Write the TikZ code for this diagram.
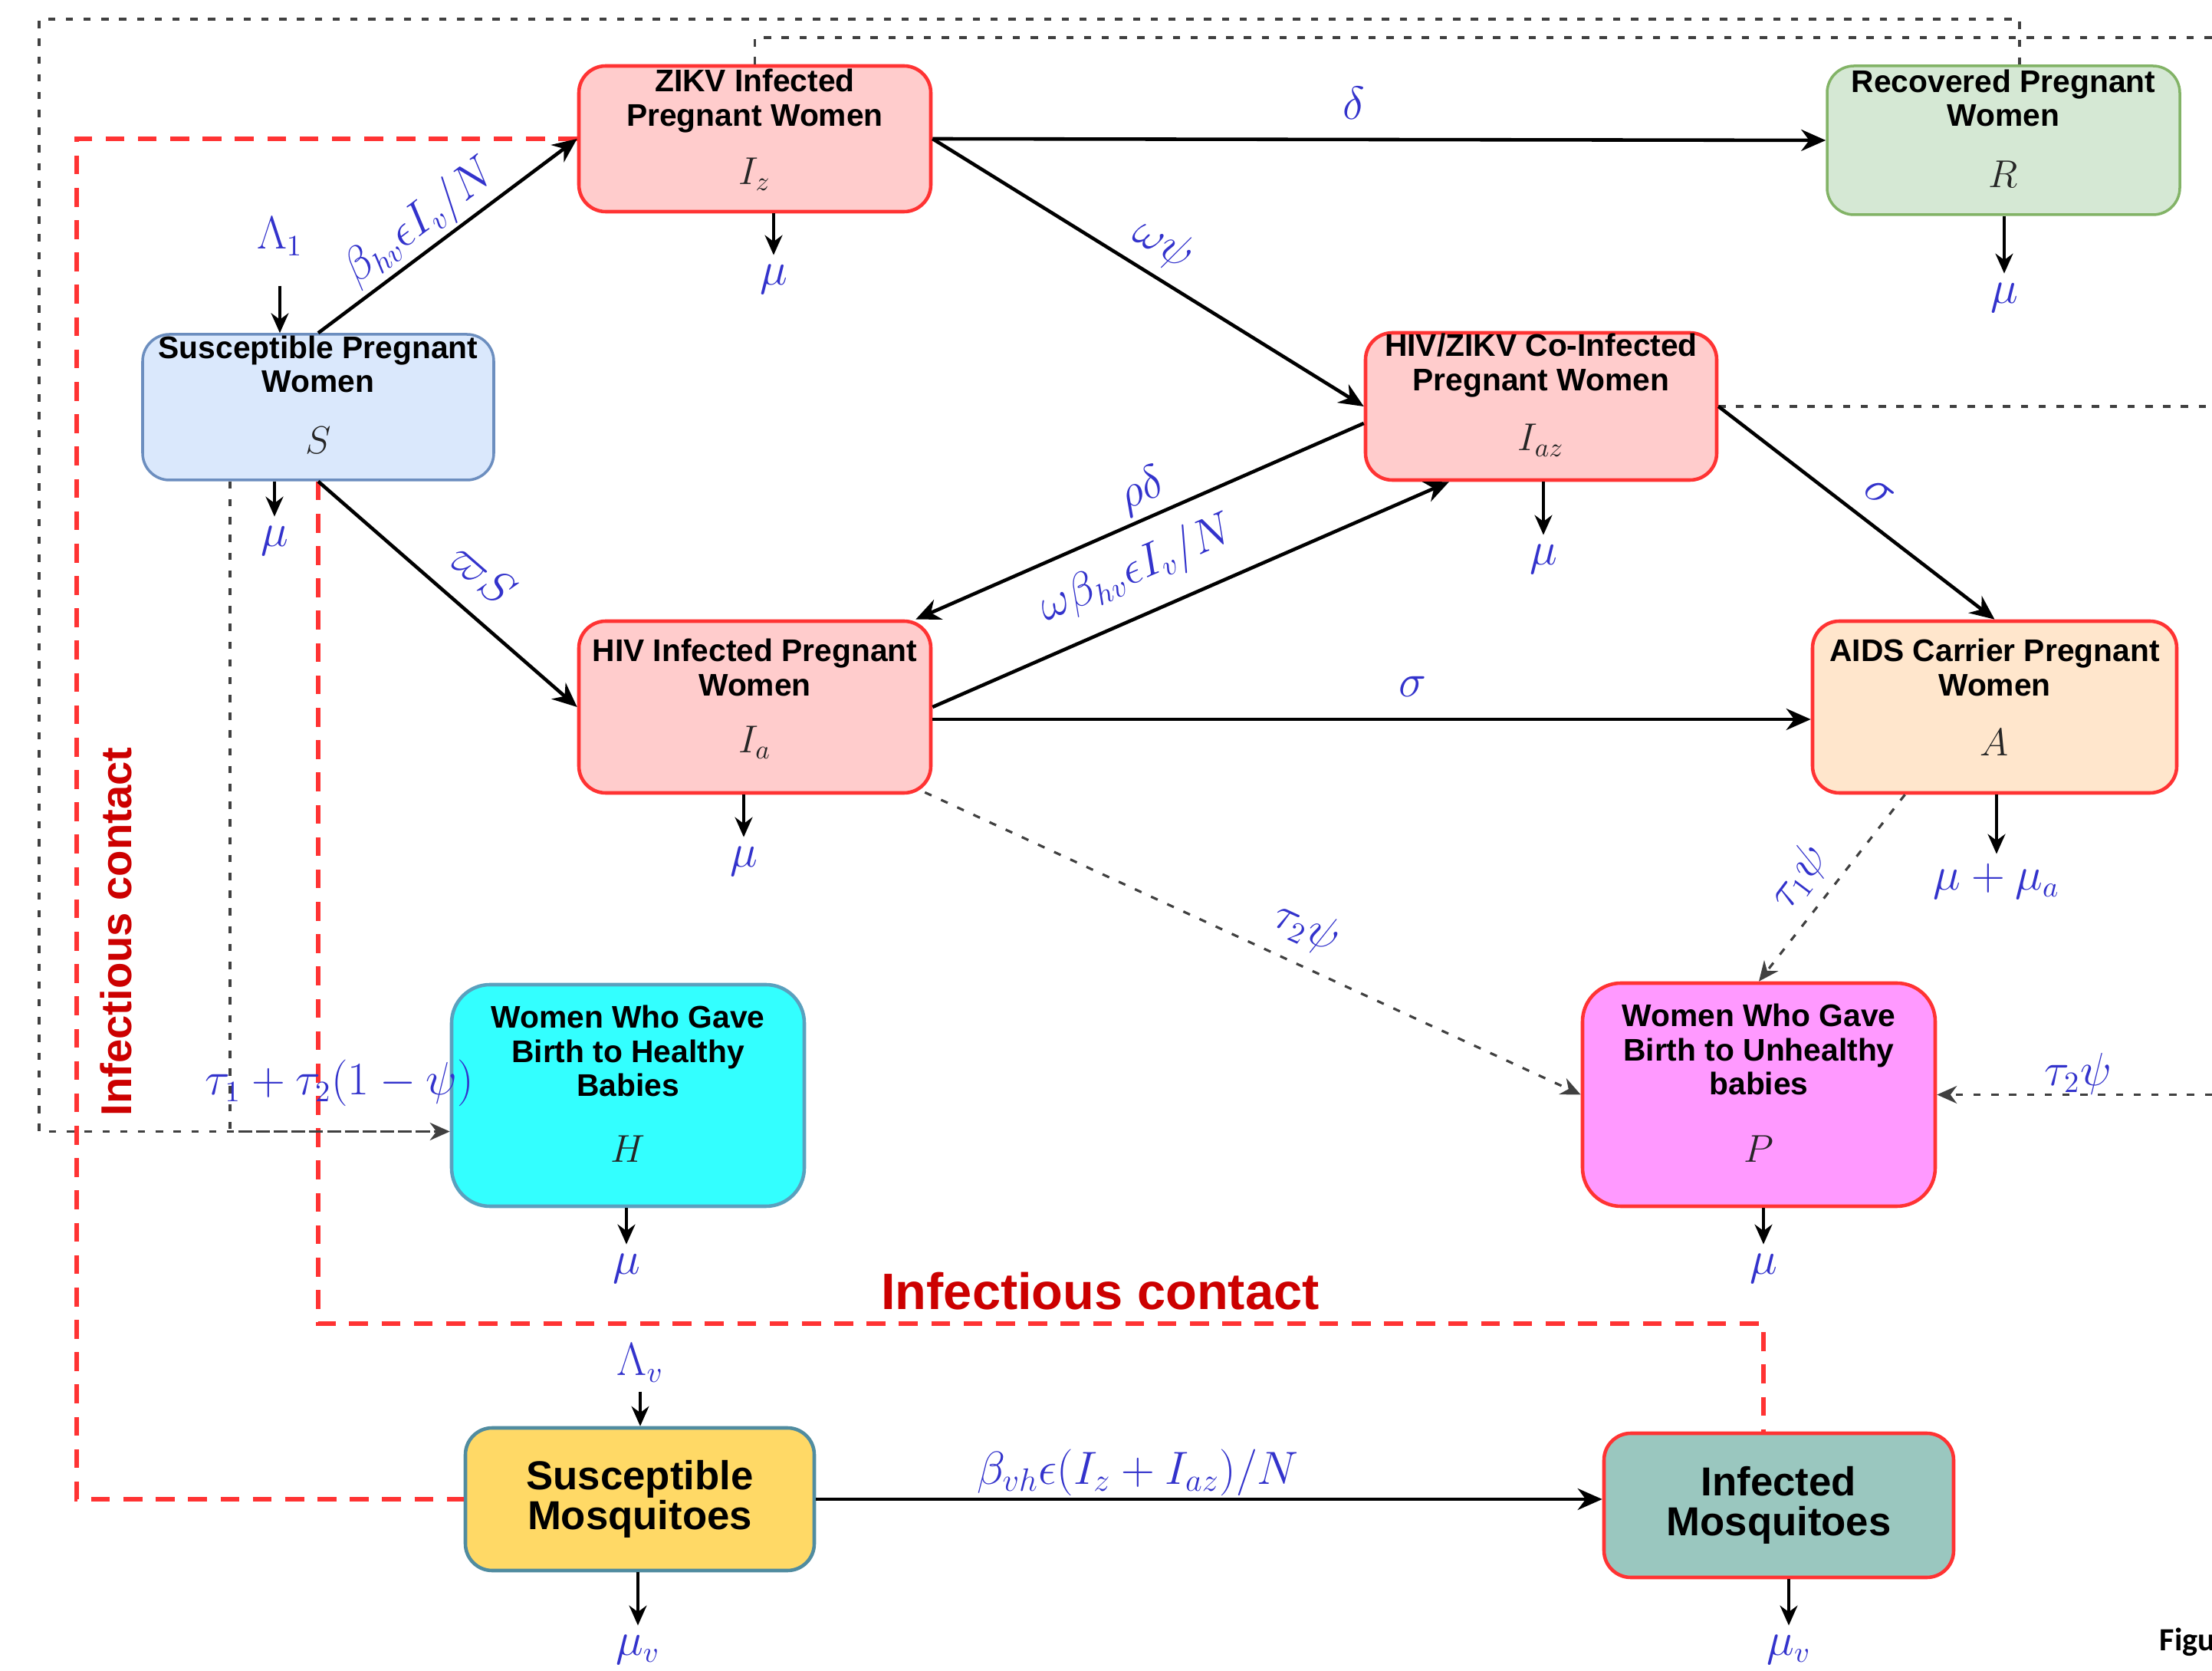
\documentclass[tikz,border=0pt]{standalone}
\usepackage{amsmath}
\usepackage{amssymb}
\usepackage{fontspec}
\setsansfont{Liberation Sans}
\newfontfamily\figfont{Carlito}
\usepackage{tikz}
\usetikzlibrary{positioning, arrows.meta, calc}

\begin{document}
\begin{tikzpicture}[>={Stealth[length=3.2mm, width=2.8mm]},
    every node/.style={font=\fontsize{16}{19}\selectfont},
    box/.style={rounded corners=0.35cm, line width=1.3pt, inner sep=0pt},
    boxtitle/.style={font=\sffamily\bfseries\fontsize{11.6}{12.6}\selectfont, align=center, inner sep=0pt},
    boxsym/.style={font=\fontsize{14}{16}\selectfont, text=black!85},
    rate/.style={text=rateblue},
    flow/.style={->, line width=1.3pt},
    loss/.style={->, line width=0.9pt, >={Stealth[length=2.6mm, width=2.3mm]}},
    dotline/.style={line width=0.9pt, black!75, dash pattern=on 2.7pt off 3.9pt, >={Stealth[length=2.6mm, width=2.3mm]}},
    contact/.style={line width=1.8pt, contactred, dash pattern=on 7pt off 5pt}]

    % Define colors
    \definecolor{rateblue}{RGB}{51, 51, 204}
    \definecolor{contactred}{RGB}{255, 51, 51}
    \definecolor{contacttext}{RGB}{204, 0, 0}
    \definecolor{susfill}{RGB}{218, 232, 252}
    \definecolor{susline}{RGB}{108, 142, 191}
    \definecolor{inffill}{RGB}{255, 204, 204}
    \definecolor{infline}{RGB}{255, 51, 51}
    \definecolor{recfill}{RGB}{213, 232, 212}
    \definecolor{recline}{RGB}{130, 179, 102}
    \definecolor{aidsfill}{RGB}{255, 230, 204}
    \definecolor{healthyfill}{RGB}{51, 255, 255}
    \definecolor{healthyline}{RGB}{90, 160, 190}
    \definecolor{sickfill}{RGB}{255, 153, 255}
    \definecolor{susmosfill}{RGB}{255, 217, 102}
    \definecolor{susmosline}{RGB}{80, 140, 160}
    \definecolor{infmosfill}{RGB}{154, 199, 191}

    % Frame
    \useasboundingbox (0, 0) rectangle (28.85, 21.78);
    \fill[white] (0, 0) rectangle (28.85, 21.78);

    % Susceptible Pregnant Women
    \node[box, fill=susfill, draw=susline, line width=1pt, minimum width=4.58cm, minimum height=1.9cm] (S) at (4.15, 16.47) {};
    \node[boxtitle, below=0.03cm of S.north] (Stitle) {Susceptible Pregnant\\Women};
    \node[boxsym] (Ssym) at ($(S.south)+(0, 0.54)$) {$S$};

    % ZIKV Infected Pregnant Women
    \node[box, fill=inffill, draw=infline, minimum width=4.59cm, minimum height=1.9cm] (Iz) at (9.845, 19.97) {};
    \node[boxtitle, below=0.06cm of Iz.north] (Iztitle) {ZIKV Infected\\Pregnant Women};
    \node[boxsym] (Izsym) at ($(Iz.south)+(0, 0.51)$) {$I_z$};

    % Recovered Pregnant Women
    \node[box, fill=recfill, draw=recline, line width=1pt, minimum width=4.6cm, minimum height=1.94cm] (R) at (26.13, 19.95) {};
    \node[boxtitle, below=0.06cm of R.north] (Rtitle) {Recovered Pregnant\\Women};
    \node[boxsym] (Rsym) at ($(R.south)+(0, 0.55)$) {$R$};

    % HIV/ZIKV Co-Infected Pregnant Women
    \node[box, fill=inffill, draw=infline, minimum width=4.58cm, minimum height=1.92cm] (Iaz) at (20.10, 16.48) {};
    \node[boxtitle, below=0.03cm of Iaz.north] (Iaztitle) {HIV/ZIKV Co-Infected\\Pregnant Women};
    \node[boxsym] (Iazsym) at ($(Iaz.south)+(0, 0.54)$) {$I_{az}$};

    % HIV Infected Pregnant Women
    \node[box, fill=inffill, draw=infline, minimum width=4.59cm, minimum height=2.24cm] (Ia) at (9.845, 12.56) {};
    \node[boxtitle, below=0.25cm of Ia.north] (Iatitle) {HIV Infected Pregnant\\Women};
    \node[boxsym] (Iasym) at ($(Ia.south)+(0, 0.68)$) {$I_a$};

    % AIDS Carrier Pregnant Women
    \node[box, fill=aidsfill, draw=infline, minimum width=4.75cm, minimum height=2.24cm] (A) at (26.015, 12.56) {};
    \node[boxtitle, below=0.25cm of A.north] (Atitle) {AIDS Carrier Pregnant\\Women};
    \node[boxsym] (Asym) at ($(A.south)+(0, 0.68)$) {$A$};

    % Women Who Gave Birth to Healthy Babies
    \node[box, rounded corners=0.5cm, fill=healthyfill, draw=healthyline, minimum width=4.6cm, minimum height=2.89cm] (H) at (8.19, 7.495) {};
    \node[boxtitle, below=0.29cm of H.north] (Htitle) {Women Who Gave\\Birth to Healthy\\Babies};
    \node[boxsym] (Hsym) at ($(H.south)+(0, 0.77)$) {$H$};

    % Women Who Gave Birth to Unhealthy babies
    \node[box, rounded corners=0.5cm, fill=sickfill, draw=infline, minimum width=4.6cm, minimum height=2.91cm] (P) at (22.94, 7.505) {};
    \node[boxtitle, below=0.29cm of P.north] (Ptitle) {Women Who Gave\\Birth to Unhealthy\\babies};
    \node[boxsym] (Psym) at ($(P.south)+(0, 0.77)$) {$P$};

    % Mosquitoes
    \node[box, fill=susmosfill, draw=susmosline, minimum width=4.55cm, minimum height=1.86cm, align=center, font=\sffamily\bfseries\fontsize{15}{14.8}\selectfont] (Sv) at (8.345, 2.23) {Susceptible\\Mosquitoes};
    \node[box, fill=infmosfill, draw=infline, minimum width=4.56cm, minimum height=1.88cm, align=center, font=\sffamily\bfseries\fontsize{15}{14.8}\selectfont] (Iv) at (23.20, 2.15) {Infected\\Mosquitoes};

    % Infectious contact lines
    \draw[contact] (Iz.west) -- ++(-6.53, 0) |- (Sv.west);
    \draw[contact] (S.south) -- (4.15, 4.52) -| ($(Iv.north)+(-0.2, 0)$);
    \node[rotate=90, text=contacttext, font=\sffamily\bfseries\fontsize{16}{18}\selectfont] (contactV) at (1.51, 9.63) {Infectious contact};
    \node[text=contacttext, font=\sffamily\bfseries\fontsize{19}{21}\selectfont] (contactH) at (14.35, 4.94) {Infectious contact};

    % Birth outcome lines (dotted)
    \coordinate (Hin) at ($(H.west)+(0, -0.47)$);
    \coordinate (TopEdge) at (28.85, 21.29);
    \coordinate (MidEdge) at (28.85, 16.48);
    \coordinate (LowEdge) at (28.85, 7.505);
    \draw[dotline, ->] ($(R.north)+(0.21, 0)$) |- (0.51, 21.53) |- (Hin);
    \draw[dotline] ($(S.south)+(-1.15, 0)$) |- (Hin);
    \draw[dotline] (Iz.north) |- (TopEdge);
    \draw[dotline] (Iaz.east) -- (MidEdge);
    \draw[dotline, ->] (LowEdge) -- (P.east);
    \draw[dotline, ->] ($(Ia.south east)+(-0.1, 0.03)$) -- (P.west);
    \draw[dotline, ->] ($(A.south)+(-1.17, 0)$) -- (P.north);

    % Transitions
    \draw[flow] (S.north) -- (Iz.west);
    \draw[flow] (S.south) -- (Ia.west);
    \draw[flow] (Iz.east) -- (R.west);
    \draw[flow] (Iz.east) -- (Iaz.west);
    \draw[flow] ($(Iaz.west)+(0, -0.22)$) -- ($(Ia.north east)+(-0.22, 0)$);
    \draw[flow] (Ia.east) -- ($(Iaz.south)+(-1.2, 0)$);
    \draw[flow] (Iaz.east) -- (A.north);
    \draw[flow] ($(Ia.east)+(0, -0.16)$) -- ($(A.west)+(0, -0.16)$);
    \draw[flow] (Sv.east) -- (Sv.east -| Iv.west);

    % Transition rates
    \node[rate, rotate=37] (rBhv) at (5.48, 18.88) {$\beta_{hv}\epsilon I_v/N$};
    \node[rate, rotate=-41] (rPiS) at (6.30, 14.30) {$\varpi S$};
    \node[rate] (rDelta) at (17.66, 20.44) {$\delta$};
    \node[rate, rotate=-31] (rOmPsi) at (15.17, 18.59) {$\omega\psi$};
    \node[rate, rotate=24] (rRhoDelta) at (14.89, 15.38) {$\rho\delta$};
    \node[rate, rotate=23.5] (rOmBhv) at (14.83, 14.35) {$\omega\beta_{hv}\epsilon I_v/N$};
    \node[rate] (rSigA) at (18.42, 12.83) {$\sigma$};
    \node[rate, rotate=-38] (rSigAz) at (24.51, 15.35) {$\sigma$};
    \node[rate, rotate=-24.5] (rTauIa) at (17.04, 9.68) {$\tau_2\psi$};
    \node[rate, rotate=53] (rTauA) at (23.47, 10.34) {$\tau_1\psi$};
    \node[rate] (rTauR) at (27.10, 7.78) {$\tau_2\psi$};
    \node[rate] (rHealthy) at (4.43, 7.66) {$\tau_1+\tau_2(1-\psi)$};
    \node[rate, font=\fontsize{18}{21}\selectfont] (rBvh) at (14.84, 2.58) {$\beta_{vh}\epsilon(I_z+I_{az})/N$};

    % Recruitment
    \node[rate] (L1) at (3.65, 18.70) {$\Lambda_1$};
    \node[rate] (Lv) at (8.35, 4.01) {$\Lambda_v$};
    \draw[loss, shorten <=0.27cm] (L1) -- (L1 |- S.north);
    \draw[loss] (Lv) -- (Lv |- Sv.north);

    % Natural deaths
    \node[rate] (muS) at (3.58, 14.73) {$\mu$};
    \node[rate] (muIz) at (10.09, 18.14) {$\mu$};
    \node[rate] (muR) at (26.14, 17.90) {$\mu$};
    \node[rate] (muIaz) at (20.13, 14.49) {$\mu$};
    \node[rate] (muIa) at (9.70, 10.55) {$\mu$};
    \node[rate] (muA) at (26.04, 10.29) {$\mu+\mu_a$};
    \node[rate] (muH) at (8.17, 5.24) {$\mu$};
    \node[rate] (muP) at (23.00, 5.24) {$\mu$};
    \node[rate] (muSv) at (8.32, 0.27) {$\mu_v$};
    \node[rate] (muIv) at (23.33, 0.27) {$\mu_v$};
    \draw[loss] (S.south -| muS) -- (muS);
    \draw[loss] (Iz.south -| muIz) -- (muIz);
    \draw[loss] (R.south -| muR) -- (muR);
    \draw[loss] (Iaz.south -| muIaz) -- (muIaz);
    \draw[loss] (Ia.south -| muIa) -- (muIa);
    \draw[loss] (A.south -| muA) -- (muA);
    \draw[loss] (H.south -| muH) -- (muH);
    \draw[loss] (P.south -| muP) -- (muP);
    \draw[loss] (Sv.south -| muSv) -- (muSv);
    \draw[loss] (Iv.south -| muIv) -- (muIv);

    % Caption fragment
    \node[anchor=west, inner sep=0pt, font=\figfont\bfseries\fontsize{12}{14}\selectfont] (figtag) at (28.16, 0.37) {Figu};

\end{tikzpicture}
\end{document}
